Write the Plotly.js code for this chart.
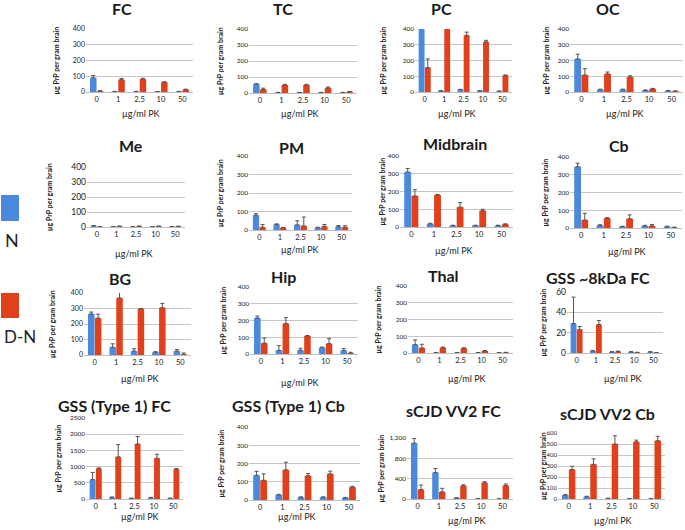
<!DOCTYPE html>
<html><head><meta charset="utf-8">
<script src="https://cdn.plot.ly/plotly-3.0.1.min.js"></script>
<style>html,body{margin:0;padding:0;background:#fff}#c{width:685px;height:530px}</style>
</head><body><div id="c"></div>
<script>
const pkLabels = ["0","1","2.5","10","50"];
const seriesNames = ["N","D-N"];

const fcN = [90,3,3,2,3],        fcNErr = [15,1,1,1,1];
const fcDN = [5,78,82,62,15],    fcDNErr = [4,8,5,3,3];
const tcN = [55,3,3,3,3],        tcNErr = [3,1,1,1,1];
const tcDN = [22,50,50,32,8],    tcDNErr = [8,4,4,5,2];
const pcN = [420,8,15,8,5],      pcNErr = [0,1,2,1,1];
const pcDN = [155,405,360,318,105], pcDNErr = [55,0,20,10,3];
const ocN = [210,15,15,10,8],    ocNErr = [30,3,3,3,2];
const ocDN = [108,115,95,20,5],  ocDNErr = [40,12,8,3,2];

const meN = [8,2,2,2,2],         meNErr = [2,1,1,1,1];
const meDN = [2,5,5,5,4],        meDNErr = [1,1,1,1,1];
const pmN = [80,30,28,12,18],    pmNErr = [8,3,22,3,6];
const pmDN = [15,12,22,20,15],   pmDNErr = [15,2,48,10,8];
const mbN = [310,18,8,8,8],      mbNErr = [20,3,2,2,2];
const mbDN = [175,180,112,92,15], mbDNErr = [35,3,25,8,3];
const cbN = [345,15,8,12,8],     cbNErr = [20,3,2,3,2];
const cbDN = [45,55,52,12,3],    cbDNErr = [38,3,22,8,2];

const bgN = [265,50,25,18,25],   bgNErr = [12,22,15,3,10];
const bgDN = [238,368,298,305,5], bgDNErr = [25,35,2,28,8];
const hipN = [215,22,22,38,20],  hipNErr = [12,28,12,3,12];
const hipDN = [65,182,108,62,5], hipDNErr = [30,35,2,30,5];
const thN = [50,2,2,2,2],        thNErr = [28,1,1,1,1];
const thDN = [30,32,28,12,3],    thDNErr = [22,3,3,3,1];
const g8N = [29,2,1,1,1],        g8NErr = [26,0.5,0.3,0.3,0.3];
const g8DN = [23,28,1.5,0.5,0.3], g8DNErr = [3,4,0.3,0.2,0.1];

const t1fcN = [600,50,20,40,20],  t1fcNErr = [220,10,5,10,5];
const t1fcDN = [940,1300,1700,1260,920], t1fcDNErr = [20,380,230,120,20];
const t1cbN = [135,28,15,15,12],  t1cbNErr = [22,3,2,2,2];
const t1cbDN = [108,165,133,143,70], t1cbDNErr = [35,42,12,15,5];
const vfcN = [1100,520,20,5,3],   vfcNErr = [90,80,5,2,1];
const vfcDN = [185,140,260,320,265], vfcDNErr = [90,70,20,20,30];
const vcbN = [35,20,5,2,2],       vcbNErr = [5,5,2,1,1];
const vcbDN = [268,315,500,520,530], vcbDNErr = [30,50,75,15,40];

const W = 685, H = 530;
const blue = "#4a89dc", red = "#e0401c";

const panels = [
 {t:"FC", n:fcN, ne:fcNErr, d:fcDN, de:fcDNErr, r:[0,400], dt:100, box:[86,193,29,92], tp:[122,9], yt:55, xt:[141,113], ts:7},
 {t:"TC", n:tcN, ne:tcNErr, d:tcDN, de:tcDNErr, r:[0,400], dt:100, box:[249,357,29,93], tp:[283,9], yt:220, xt:[300,113]},
 {t:"PC", n:pcN, ne:pcNErr, d:pcDN, de:pcDNErr, r:[0,400], dt:100, box:[415,512,29,92], tp:[441,9], yt:382, xt:[457,113]},
 {t:"OC", n:ocN, ne:ocNErr, d:ocDN, de:ocDNErr, r:[0,400], dt:100, box:[570,683,29,92], tp:[608,9], yt:545, xt:[625,113]},
 {t:"Me", n:meN, ne:meNErr, d:meDN, de:meDNErr, r:[0,400], dt:100, box:[87,185,167,227], tp:[131,145], yt:49, xt:[134,253], ts:8.5},
 {t:"PM", n:pmN, ne:pmNErr, d:pmDN, de:pmDNErr, r:[0,400], dt:100, box:[249,352,156,230], tp:[291,147], yt:220, xt:[300,249]},
 {t:"Midbrain", n:mbN, ne:mbNErr, d:mbDN, de:mbDNErr, r:[0,400], dt:100, box:[400,513,156,227], tp:[455,144], yt:381, xt:[454,250]},
 {t:"Cb", n:cbN, ne:cbNErr, d:cbDN, de:cbDNErr, r:[0,400], dt:100, box:[570,682,157,228], tp:[619,146], yt:544, xt:[627,251]},
 {t:"BG", n:bgN, ne:bgNErr, d:bgDN, de:bgDNErr, r:[0,400], dt:100, box:[84,191,293,355], tp:[120,278], yt:52, xt:[140,378], ts:7},
 {t:"Hip", n:hipN, ne:hipNErr, d:hipDN, de:hipDNErr, r:[0,400], dt:100, box:[250,358,287,354], tp:[283,276], yt:222, xt:[300,382]},
 {t:"Thal", n:thN, ne:thNErr, d:thDN, de:thDNErr, r:[0,400], dt:100, box:[408,513,286,353], tp:[443,275], yt:377, xt:[467,378]},
 {t:"GSS ~8kDa FC", n:g8N, ne:g8NErr, d:g8DN, de:g8DNErr, r:[0,60], dt:20, box:[567,663,292,353], tp:[598,277], yt:542, xt:[623,378], ts:8.5},
 {t:"GSS (Type 1) FC", n:t1fcN, ne:t1fcNErr, d:t1fcDN, de:t1fcDNErr, r:[0,2500], dt:500, box:[86,183,418,499], tp:[114,405], yt:57, xt:[140,516]},
 {t:"GSS (Type 1) Cb", n:t1cbN, ne:t1cbNErr, d:t1cbDN, de:t1cbDNErr, r:[0,400], dt:100, box:[249,360,427,500], tp:[288,405], yt:220, xt:[297,516]},
 {t:"sCJD VV2 FC", n:vfcN, ne:vfcNErr, d:vfcDN, de:vfcDNErr, r:[0,1200], dt:400, box:[407,513,438,499], tp:[453,410], yt:380, xt:[467,520], fmt:",d"},
 {t:"sCJD VV2 Cb", n:vcbN, ne:vcbNErr, d:vcbDN, de:vcbDNErr, r:[0,600], dt:100, box:[558,665,433,499], tp:[607,413], yt:543, xt:[613,520], ts:6}
];

const traces = [];
const layout = {
  width: W, height: H, margin:{l:0,r:0,t:0,b:0}, showlegend:false,
  paper_bgcolor:"#fff", plot_bgcolor:"#fff",
  barmode:"group", bargap:0.36, bargroupgap:0.05,
  font:{family:"Lato, 'Open Sans', sans-serif", color:"#222"},
  annotations:[], shapes:[]
};

panels.forEach((p,i)=>{
  const k = i+1;
  const xa = "x"+(k===1?"":k), ya = "y"+(k===1?"":k);
  const xk = "xaxis"+(k===1?"":k), yk = "yaxis"+(k===1?"":k);
  const [x0,x1,yT,yB] = p.box;
  const eb = (arr)=>({type:"data", symmetric:false, array:arr, arrayminus:arr.map(()=>0), color:"#555", thickness:1, width:2});
  traces.push({type:"bar", name:seriesNames[0], x:pkLabels, y:p.n, xaxis:xa, yaxis:ya, marker:{color:blue}, error_y:eb(p.ne)});
  traces.push({type:"bar", name:seriesNames[1], x:pkLabels, y:p.d, xaxis:xa, yaxis:ya, marker:{color:red}, error_y:eb(p.de)});
  layout[xk] = {domain:[x0/W, x1/W], anchor:ya, type:"category", showgrid:false, showline:true, linecolor:"#bdbdbd", linewidth:1,
    ticks:"", tickfont:{size:7.5, color:"#222"}, zeroline:false, fixedrange:true};
  const yax = {domain:[1-yB/H, 1-yT/H], anchor:xa, range:p.r, dtick:p.dt, showgrid:true, gridcolor:"#c6c6c6", gridwidth:1,
    zeroline:false, showline:false, ticks:"", tickfont:{size:p.ts||6.5, color:"#222"}, fixedrange:true};
  if (p.fmt) yax.tickformat = p.fmt;
  layout[yk] = yax;
  layout.annotations.push({xref:"paper", yref:"paper", x:p.tp[0]/W, y:1-p.tp[1]/H, text:"<b>"+p.t+"</b>", showarrow:false,
    xanchor:"center", yanchor:"middle", font:{size:16, color:"#1a1a1a", family:"Lato, sans-serif"}});
  layout.annotations.push({xref:"paper", yref:"paper", x:p.yt/W, y:1-((yT+yB)/2)/H, text:"<b>µg PrP per gram brain</b>", textangle:-90,
    showarrow:false, xanchor:"center", yanchor:"middle", font:{size:7, color:"#222"}});
  layout.annotations.push({xref:"paper", yref:"paper", x:p.xt[0]/W, y:1-p.xt[1]/H, text:"µg/ml PK", showarrow:false,
    xanchor:"center", yanchor:"middle", font:{size:9, color:"#222"}});
});

layout.shapes.push({type:"rect", xref:"paper", yref:"paper", x0:1/W, x1:19/W, y0:1-221/H, y1:1-195/H, fillcolor:blue, line:{width:0}});
layout.shapes.push({type:"rect", xref:"paper", yref:"paper", x0:1/W, x1:19/W, y0:1-318/H, y1:1-293/H, fillcolor:red, line:{width:0}});
layout.annotations.push({xref:"paper", yref:"paper", x:3/W, y:1-240/H, text:seriesNames[0], showarrow:false, xanchor:"left", yanchor:"middle", font:{size:18, color:"#222"}});
layout.annotations.push({xref:"paper", yref:"paper", x:2/W, y:1-336/H, text:seriesNames[1], showarrow:false, xanchor:"left", yanchor:"middle", font:{size:17, color:"#222"}});

Plotly.newPlot("c", traces, layout, {staticPlot:true, displayModeBar:false});
</script>
</body></html>
